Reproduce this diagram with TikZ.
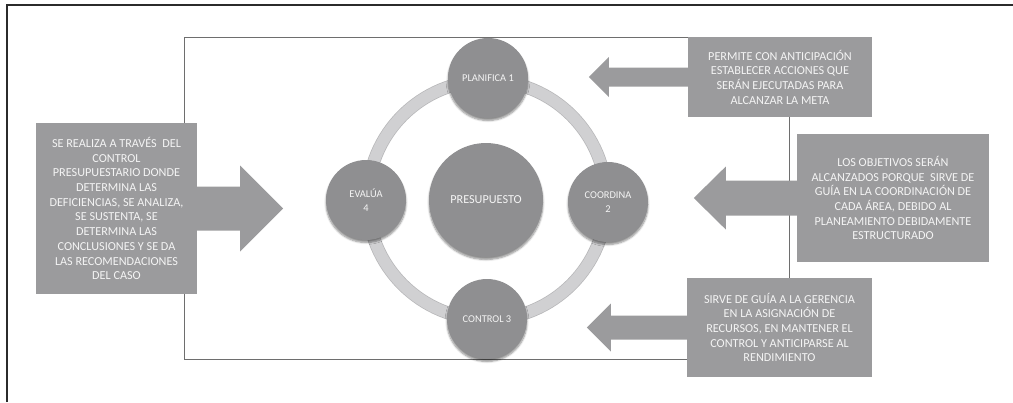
\documentclass[tikz,border=0pt]{standalone}
\usepackage{fontspec}
\setmainfont{Carlito}
\usetikzlibrary{shadows.blur,calc}
\definecolor{boxgray}{HTML}{9B9B9D}
\definecolor{circgray}{HTML}{8F8F91}
\definecolor{ringgray}{HTML}{D0D0D2}
\definecolor{txt}{HTML}{F4F4F4}
\definecolor{framegray}{HTML}{6E6E6E}
\definecolor{outer}{HTML}{2B2B2B}
\tikzset{
  infobox/.style={fill=boxgray, text=txt, align=center, inner sep=0pt,
    font=\fontsize{12.2}{14.7}\selectfont},
  stage/.style={circle, fill=circgray, text=txt, align=center, inner sep=0pt,
    minimum size=80pt, font=\fontsize{10.4}{14}\selectfont,
    blur shadow={shadow xshift=0pt, shadow yshift=-2.5pt, shadow blur steps=6, shadow opacity=45}},
  core/.style={stage, minimum size=114pt, font=\fontsize{12.2}{14}\selectfont},
  blockarrow/.style={fill=boxgray}
}
\begin{document}
\begin{tikzpicture}[x=1pt,y=1pt]
\useasboundingbox (0,0) rectangle (1013,-402);
% outer frame
\draw[outer, line width=2pt] (7,-402) -- (7,-5) -- (1013,-5);
% inner frame
\coordinate (fa) at (184,-37);
\coordinate (fb) at (789,-359);
\draw[framegray, line width=0.9pt] (fa) rectangle (fb);
% ring
\coordinate (ctr) at (487,-200);
\draw[ringgray!88!black, line width=13pt] (ctr) circle (119.5pt);
\draw[ringgray, line width=11.5pt] (ctr) circle (119.5pt);
% circles
\node[core]  (pres) at (486,-200) {PRESUPUESTO};
\node[stage] (plan) at (488,-78)  {PLANIFICA 1};
\node[stage] (coor) at (608,-202) {COORDINA\\2};
\node[stage] (cont) at (487,-319) {CONTROL 3};
\node[stage] (eval) at (366,-200) {EVALÚA\\4};
% boxes
\node[infobox, minimum width=161pt, minimum height=171pt] (bl) at (116.5,-208.5)
  {SE REALIZA A TRAVÉS\ \ DEL\\CONTROL\\PRESUPUESTARIO DONDE\\DETERMINA LAS\\DEFICIENCIAS, SE ANALIZA,\\SE SUSTENTA, SE\\DETERMINA LAS\\CONCLUSIONES Y SE DA\\LAS RECOMENDACIONES\\DEL CASO};
\node[infobox, minimum width=184pt, minimum height=80pt] (b1) at (780,-77)
  {PERMITE CON ANTICIPACIÓN\\ESTABLECER ACCIONES QUE\\SERÁN EJECUTADAS PARA\\ALCANZAR LA META};
\node[infobox, minimum width=192pt, minimum height=128pt] (b2) at (893,-198)
  {LOS OBJETIVOS SERÁN\\ALCANZADOS PORQUE\ \ SIRVE DE\\GUÍA EN LA COORDINACIÓN DE\\CADA ÁREA, DEBIDO AL\\PLANEAMIENTO DEBIDAMENTE\\ESTRUCTURADO};
\node[infobox, minimum width=185pt, minimum height=99pt] (b3) at (779.5,-327.5)
  {SIRVE DE GUÍA A LA GERENCIA\\EN LA ASIGNACIÓN DE\\RECURSOS, EN MANTENER EL\\CONTROL Y ANTICIPARSE AL\\RENDIMIENTO};
% block arrows
\fill[blockarrow] ([yshift=22pt]bl.east) -- ++(43,0) -- ++(0,21) -- ++(43,-43) -- ++(-43,-43) -- ++(0,21) -- ([yshift=-22pt]bl.east) -- cycle;
\fill[blockarrow] ([yshift=9.5pt]b1.west) -- ++(-79,0) -- ++(0,10.5) -- ++(-20,-20) -- ++(20,-20) -- ++(0,10.5) -- ([yshift=-9.5pt]b1.west) -- cycle;
\fill[blockarrow] ([yshift=17.5pt]b2.west) -- ++(-71,0) -- ++(0,14) -- ++(-32,-31.5) -- ++(32,-31.5) -- ++(0,14) -- ([yshift=-17.5pt]b2.west) -- cycle;
\fill[blockarrow] ([yshift=12pt]b3.west) -- ++(-76,0) -- ++(0,12) -- ++(-24,-24) -- ++(24,-24) -- ++(0,12) -- ([yshift=-12pt]b3.west) -- cycle;
\end{tikzpicture}
\end{document}
